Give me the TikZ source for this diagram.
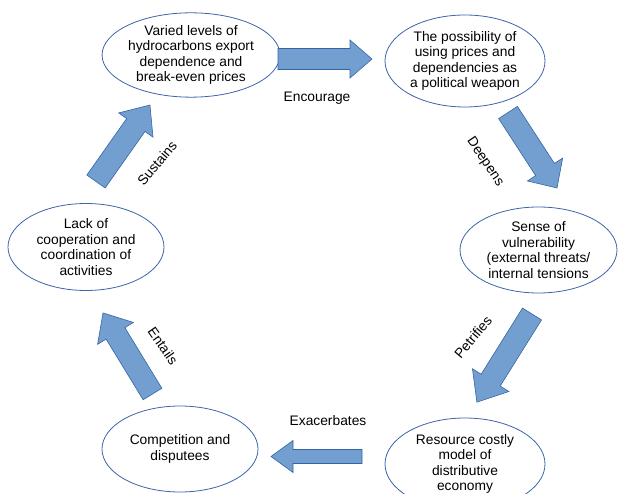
\documentclass[tikz,border=0pt]{standalone}
\usepackage{fontspec}
\setmainfont{Liberation Sans}
\usetikzlibrary{shapes.geometric}
\definecolor{arrfill}{RGB}{114,159,207}
\definecolor{arrline}{RGB}{52,101,164}
\definecolor{elline}{RGB}{60,100,170}
\tikzset{
  bubble/.style={ellipse, draw=elline, line width=0.8pt, inner sep=0pt, align=center,
    font=\fontsize{13.8}{15.6}\selectfont},
  lbl/.style={inner sep=0pt, font=\fontsize{13.8}{15.6}\selectfont},
  blockarrow/.style={fill=arrfill, draw=arrline, line width=0.6pt, line join=miter}
}
% #1 tail coordinate, #2 angle, #3 length, #4 shaft half width, #5 head half width, #6 head length
\newcommand{\blkarrow}[6]{%
  \begin{scope}[shift={(#1)}, rotate=#2]
    \draw[blockarrow] (0,-#4) -- ({#3-#6},-#4) -- ({#3-#6},-#5) -- (#3,0)
      -- ({#3-#6},#5) -- ({#3-#6},#4) -- (0,#4) -- cycle;
  \end{scope}}
\begin{document}
\begin{tikzpicture}[x=1pt,y=-1pt]
\useasboundingbox (0,0) rectangle (618,494);
\begin{scope}
\clip (0,0) rectangle (618,494);
\node[bubble, minimum width=152pt, minimum height=84pt] (e1) at (191,55)
  {Varied levels of\\hydrocarbons export\\dependence and\\break-even prices};
\node[bubble, minimum width=160pt, minimum height=92pt] (e2) at (465,61)
  {The possibility of\\using prices and\\dependencies as\\a political weapon};
\node[bubble, minimum width=157pt, minimum height=86pt] (e3) at (538.5,250)
  {Sense of\\vulnerability\\(external threats/\\internal tensions};
\node[bubble, minimum width=156pt, minimum height=87pt] (e4) at (86,247)
  {Lack of\\cooperation and\\coordination of\\activities};
\node[bubble, minimum width=156pt, minimum height=86pt] (e5) at (180,449)
  {Competition and\\disputees};
\node[bubble, minimum width=160pt, minimum height=92pt] (e6) at (465,464)
  {Resource costly\\model of\\distributive\\economy};
\end{scope}

\coordinate (t1) at (278,59);
\coordinate (t2) at (508,112.5);
\coordinate (t3) at (532,314);
\coordinate (t4) at (362,456.5);
\coordinate (t5) at (152.5,394);
\coordinate (t6) at (96,181.5);
\blkarrow{t1}{0}{94}{10.5}{19}{22}
\blkarrow{t2}{-57}{90}{11.2}{21}{22}
\blkarrow{t3}{-122}{104}{11.2}{21.5}{26}
\blkarrow{t4}{180}{91}{7}{16}{22}
\blkarrow{t5}{121.4}{95}{11}{21}{24}
\blkarrow{t6}{54.8}{93.6}{11.2}{21}{24.5}

\node[lbl] (l1) at (317,98) {Encourage};
\node[lbl, rotate=-56] (l2) at (485,162) {Deepens};
\node[lbl, rotate=50] (l3) at (473,337) {Petrifies};
\node[lbl] (l4) at (328,421) {Exacerbates};
\node[lbl, rotate=-55] (l5) at (163,346) {Entails};
\node[lbl, rotate=50] (l6) at (157,163) {Sustains};
\end{tikzpicture}
\end{document}
